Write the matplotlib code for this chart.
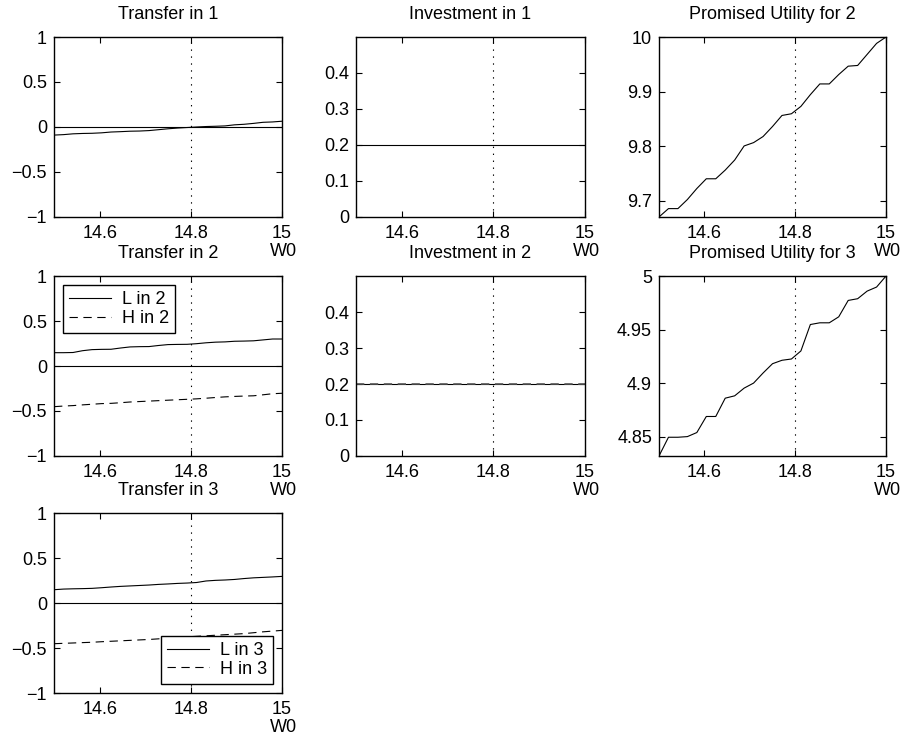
import numpy as np
import matplotlib
matplotlib.use("Agg")
import matplotlib.pyplot as plt

plt.rcParams['font.family'] = ['Liberation Sans', 'DejaVu Sans']
plt.rcParams['font.size'] = 13
plt.rcParams['lines.scale_dashes'] = False

# grid of initial wealth W0
w0 = np.linspace(14.5, 15.0, 25)

transfer1 = [-0.090, -0.085, -0.076, -0.072, -0.070, -0.065, -0.056, -0.052, -0.047, -0.045,
             -0.040, -0.030, -0.020, -0.012, -0.006, 0.000, 0.005, 0.008, 0.012, 0.024,
             0.030, 0.040, 0.052, 0.056, 0.064]

transfer2_L = [0.148, 0.148, 0.150, 0.170, 0.182, 0.185, 0.186, 0.200, 0.212, 0.215,
               0.216, 0.228, 0.238, 0.240, 0.241, 0.248, 0.258, 0.265, 0.268, 0.275,
               0.277, 0.280, 0.290, 0.300, 0.300]
transfer2_H = [-0.452, -0.445, -0.440, -0.432, -0.425, -0.418, -0.415, -0.408, -0.400, -0.395,
               -0.390, -0.385, -0.380, -0.375, -0.370, -0.365, -0.358, -0.350, -0.343, -0.338,
               -0.334, -0.331, -0.320, -0.308, -0.303]

transfer3_L = [0.148, 0.155, 0.158, 0.160, 0.163, 0.170, 0.178, 0.185, 0.190, 0.195,
               0.200, 0.207, 0.212, 0.218, 0.222, 0.228, 0.245, 0.252, 0.256, 0.262,
               0.272, 0.280, 0.285, 0.290, 0.296]
transfer3_H = [-0.452, -0.448, -0.444, -0.440, -0.436, -0.430, -0.425, -0.420, -0.415, -0.410,
               -0.405, -0.398, -0.390, -0.383, -0.376, -0.370, -0.364, -0.358, -0.352, -0.346,
               -0.340, -0.330, -0.320, -0.312, -0.304]

invest1 = [0.2] * 25
invest2_L = [0.2] * 25
invest2_H = [0.2] * 25

util2 = [9.6706, 9.6859, 9.6859, 9.7025, 9.7227, 9.7405, 9.7405, 9.7564, 9.7748, 9.8006,
         9.8067, 9.8178, 9.8362, 9.8564, 9.8595, 9.8730, 9.8945, 9.9141, 9.9141, 9.9313,
         9.9466, 9.9479, 9.9681, 9.9883, 10.0]
util3 = [4.8319, 4.8494, 4.8494, 4.8500, 4.8538, 4.8688, 4.8688, 4.8859, 4.8881, 4.8953,
         4.9000, 4.9094, 4.9181, 4.9213, 4.9225, 4.9300, 4.9547, 4.9563, 4.9563, 4.9619,
         4.9772, 4.9788, 4.9859, 4.9897, 5.0]

xticks = [14.6, 14.8, 15.0]
xticklabels = ['14.6', '14.8', '15']
tr_ticks = [-1, -0.5, 0, 0.5, 1]
tr_labels = ['\u22121', '\u22120.5', '0', '0.5', '1']
inv_ticks = [0, 0.1, 0.2, 0.3, 0.4]
inv_labels = ['0', '0.1', '0.2', '0.3', '0.4']
u2_ticks = [9.7, 9.8, 9.9, 10.0]
u2_labels = ['9.7', '9.8', '9.9', '10']
u3_ticks = [4.85, 4.9, 4.95, 5.0]
u3_labels = ['4.85', '4.9', '4.95', '5']

fig = plt.figure(figsize=(9.02, 7.4), dpi=100)

lefts = [0.0599, 0.3947, 0.7306]
widths = [0.2528, 0.2539, 0.2517]
bottoms = [0.7068, 0.3838, 0.0635]
height = 0.2432

LW = 0.8
DASH = (0, (6, 4))


def make_ax(row, col, title, ylim, yticks, ylabels):
    ax = fig.add_axes([lefts[col], bottoms[row], widths[col], height])
    ax.set_xlim(14.5, 15.0)
    ax.set_ylim(*ylim)
    ax.set_xticks(xticks)
    ax.set_xticklabels(xticklabels)
    ax.set_yticks(yticks)
    ax.set_yticklabels(ylabels)
    ax.tick_params(direction='in', length=4, width=0.8, top=True, right=True)
    ax.tick_params(axis='x', pad=5.5)
    ax.tick_params(axis='y', pad=5)
    for s in ax.spines.values():
        s.set_linewidth(1.0)
    ax.set_title(title, fontsize=13, pad=13)
    ax.axvline(14.8, color='black', lw=0.8, linestyle=(0, (1, 4)))
    # x label sits under the last tick label, like MATLAB does it
    ax.annotate('W0', xy=(1, 0), xycoords='axes fraction', xytext=(1, -18.5),
                textcoords='offset points', ha='center', va='top', fontsize=13)
    return ax


def add_legend(ax, handles, loc):
    leg = ax.legend(handles=handles, loc=loc, fontsize=13, fancybox=False,
                    edgecolor='black', framealpha=1, borderpad=0.35, labelspacing=0.1,
                    handlelength=2.3, handletextpad=0.6, borderaxespad=0.5)
    leg.get_frame().set_linewidth(1.0)


# Transfer in 1
ax = make_ax(0, 0, 'Transfer in 1', (-1, 1), tr_ticks, tr_labels)
ax.axhline(0, color='black', lw=LW)
ax.plot(w0, transfer1, color='black', lw=LW)

# Investment in 1
ax = make_ax(0, 1, 'Investment in 1', (0, 0.5), inv_ticks, inv_labels)
ax.plot(w0, invest1, color='black', lw=LW)

# Promised Utility for 2
ax = make_ax(0, 2, 'Promised Utility for 2', (9.6706, 10.0), u2_ticks, u2_labels)
ax.plot(w0, util2, color='black', lw=LW)

# Transfer in 2
ax = make_ax(1, 0, 'Transfer in 2', (-1, 1), tr_ticks, tr_labels)
l1, = ax.plot(w0, transfer2_L, color='black', lw=LW, label='L in 2')
l2, = ax.plot(w0, transfer2_H, color='black', lw=LW, linestyle=DASH, label='H in 2')
ax.axhline(0, color='black', lw=LW)
add_legend(ax, [l1, l2], 'upper left')

# Investment in 2
ax = make_ax(1, 1, 'Investment in 2', (0, 0.5), inv_ticks, inv_labels)
ax.plot(w0, invest2_L, color='black', lw=LW)
ax.plot(w0, invest2_H, color='#555555', lw=1.2, linestyle=DASH)

# Promised Utility for 3
ax = make_ax(1, 2, 'Promised Utility for 3', (4.8319, 5.0), u3_ticks, u3_labels)
ax.plot(w0, util3, color='black', lw=LW)

# Transfer in 3
ax = make_ax(2, 0, 'Transfer in 3', (-1, 1), tr_ticks, tr_labels)
l1, = ax.plot(w0, transfer3_L, color='black', lw=LW, label='L in 3')
l2, = ax.plot(w0, transfer3_H, color='black', lw=LW, linestyle=DASH, label='H in 3')
ax.axhline(0, color='black', lw=LW)
add_legend(ax, [l1, l2], 'lower right')

fig.savefig('out.png', dpi=100)
